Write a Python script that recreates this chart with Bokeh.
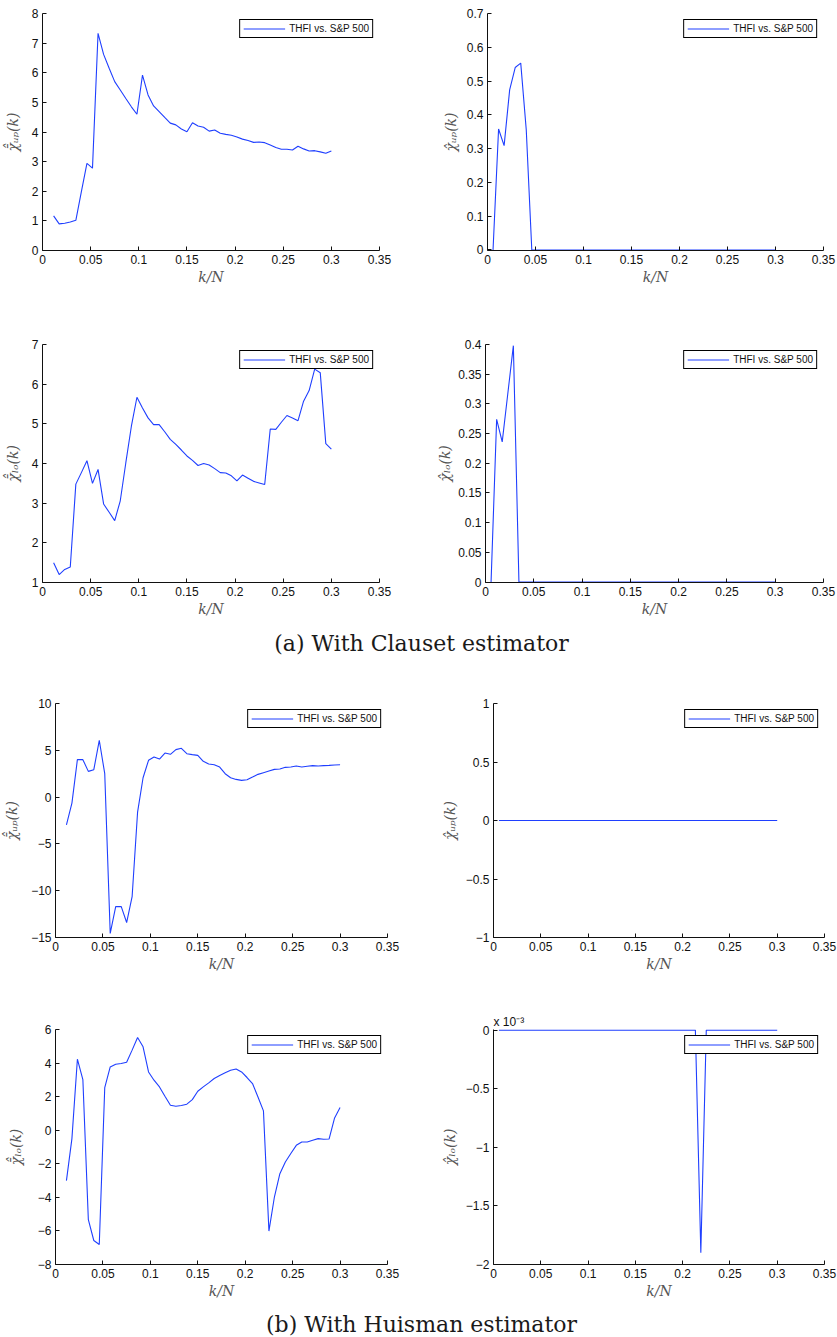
from bokeh.plotting import figure
from bokeh.models import Range1d, FixedTicker, Label, Title
from bokeh.layouts import column, row
from bokeh.embed import file_html
from bokeh.resources import INLINE

# k/N grid shared by all panels (left-column estimators start at the second point)
k_over_n = [
    0.00577, 0.01154, 0.01731, 0.02308, 0.02885, 0.03462, 0.04038, 0.04615,
    0.05192, 0.05769, 0.06346, 0.06923, 0.07500, 0.08077, 0.08654, 0.09231,
    0.09808, 0.10385, 0.10962, 0.11538, 0.12115, 0.12692, 0.13269, 0.13846,
    0.14423, 0.15000, 0.15577, 0.16154, 0.16731, 0.17308, 0.17885, 0.18462,
    0.19038, 0.19615, 0.20192, 0.20769, 0.21346, 0.21923, 0.22500, 0.23077,
    0.23654, 0.24231, 0.24808, 0.25385, 0.25962, 0.26538, 0.27115, 0.27692,
    0.28269, 0.28846, 0.29423, 0.30000,
]
k_over_n_bar = k_over_n[1:]

# (a) Clauset estimator
clauset_up_bar = [
    1.17, 0.90, 0.92, 0.96, 1.02, 1.99, 2.94, 2.78, 7.33, 6.62, 6.15, 5.70,
    5.42, 5.13, 4.85, 4.60, 5.92, 5.25, 4.88, 4.69, 4.49, 4.30, 4.24, 4.10,
    4.01, 4.31, 4.20, 4.16, 4.03, 4.07, 3.96, 3.92, 3.89, 3.83, 3.76, 3.71,
    3.65, 3.66, 3.64, 3.56, 3.48, 3.42, 3.42, 3.39, 3.52, 3.43, 3.36, 3.37,
    3.33, 3.28, 3.36,
]
clauset_up_hat = [
    0.0, 0.358, 0.309, 0.474, 0.540, 0.553, 0.355, 0.0, 0.0, 0.0, 0.0, 0.0,
    0.0, 0.0, 0.0, 0.0, 0.0, 0.0, 0.0, 0.0, 0.0, 0.0, 0.0, 0.0, 0.0, 0.0,
    0.0, 0.0, 0.0, 0.0, 0.0, 0.0, 0.0, 0.0, 0.0, 0.0, 0.0, 0.0, 0.0, 0.0,
    0.0, 0.0, 0.0, 0.0, 0.0, 0.0, 0.0, 0.0, 0.0, 0.0, 0.0, 0.0,
]
clauset_lo_bar = [
    1.50, 1.20, 1.33, 1.39, 3.48, 3.77, 4.07, 3.50, 3.85, 2.98, 2.77, 2.56,
    3.06, 4.02, 4.94, 5.67, 5.40, 5.15, 4.98, 4.98, 4.80, 4.61, 4.48, 4.34,
    4.19, 4.08, 3.95, 4.00, 3.96, 3.87, 3.77, 3.76, 3.69, 3.56, 3.71, 3.63,
    3.55, 3.51, 3.47, 4.87, 4.86, 5.04, 5.21, 5.15, 5.08, 5.57, 5.84, 6.38,
    6.29, 4.50, 4.36,
]
clauset_lo_hat = [
    0.0, 0.274, 0.236, 0.317, 0.398, 0.0, 0.0, 0.0, 0.0, 0.0, 0.0, 0.0,
    0.0, 0.0, 0.0, 0.0, 0.0, 0.0, 0.0, 0.0, 0.0, 0.0, 0.0, 0.0, 0.0, 0.0,
    0.0, 0.0, 0.0, 0.0, 0.0, 0.0, 0.0, 0.0, 0.0, 0.0, 0.0, 0.0, 0.0, 0.0,
    0.0, 0.0, 0.0, 0.0, 0.0, 0.0, 0.0, 0.0, 0.0, 0.0, 0.0, 0.0,
]

# (b) Huisman estimator
huisman_up_bar = [
    -2.96, -0.64, 4.00, 4.00, 2.75, 2.93, 6.07, 2.50, -14.57, -11.70, -11.68,
    -13.40, -10.64, -1.60, 2.07, 3.93, 4.29, 4.07, 4.71, 4.57, 5.07, 5.21,
    4.64, 4.54, 4.46, 3.82, 3.54, 3.46, 3.21, 2.50, 2.07, 1.89, 1.79, 1.86,
    2.14, 2.43, 2.61, 2.79, 2.96, 3.00, 3.18, 3.21, 3.32, 3.21, 3.29, 3.36,
    3.32, 3.36, 3.39, 3.43, 3.46,
]
huisman_up_hat = [
    0.0, 0.0, 0.0, 0.0, 0.0, 0.0, 0.0, 0.0, 0.0, 0.0, 0.0, 0.0, 0.0,
    0.0, 0.0, 0.0, 0.0, 0.0, 0.0, 0.0, 0.0, 0.0, 0.0, 0.0, 0.0, 0.0,
    0.0, 0.0, 0.0, 0.0, 0.0, 0.0, 0.0, 0.0, 0.0, 0.0, 0.0, 0.0, 0.0,
    0.0, 0.0, 0.0, 0.0, 0.0, 0.0, 0.0, 0.0, 0.0, 0.0, 0.0, 0.0, 0.0,
]
huisman_lo_bar = [
    -3.00, -0.50, 4.23, 3.02, -5.33, -6.57, -6.81, 2.54, 3.77, 3.93, 3.97,
    4.05, 4.77, 5.52, 4.97, 3.47, 2.98, 2.58, 2.02, 1.49, 1.43, 1.47, 1.55,
    1.82, 2.32, 2.58, 2.82, 3.08, 3.26, 3.42, 3.57, 3.65, 3.47, 3.14, 2.78,
    1.98, 1.15, -6.01, -3.98, -2.59, -1.89, -1.39, -0.90, -0.70, -0.70,
    -0.60, -0.50, -0.54, -0.52, 0.73, 1.35,
]
huisman_lo_hat = [
    0.0, 0.0, 0.0, 0.0, 0.0, 0.0, 0.0, 0.0, 0.0, 0.0, 0.0, 0.0, 0.0,
    0.0, 0.0, 0.0, 0.0, 0.0, 0.0, 0.0, 0.0, 0.0, 0.0, 0.0, 0.0, 0.0,
    0.0, 0.0, 0.0, 0.0, 0.0, 0.0, 0.0, 0.0, 0.0, 0.0, 0.0, -0.0019,
    0.0, 0.0, 0.0, 0.0, 0.0, 0.0, 0.0, 0.0, 0.0, 0.0, 0.0, 0.0, 0.0, 0.0,
]

SERIES_NAME = "THFI vs. S&P 500"
M = "\u2212"

x_ticks = [0, 0.05, 0.1, 0.15, 0.2, 0.25, 0.3, 0.35]
x_tick_labels = ["0", "0.05", "0.1", "0.15", "0.2", "0.25", "0.3", "0.35"]

ticks_up_bar_a = [0, 1, 2, 3, 4, 5, 6, 7, 8]
labels_up_bar_a = ["0", "1", "2", "3", "4", "5", "6", "7", "8"]
ticks_up_hat_a = [0, 0.1, 0.2, 0.3, 0.4, 0.5, 0.6, 0.7]
labels_up_hat_a = ["0", "0.1", "0.2", "0.3", "0.4", "0.5", "0.6", "0.7"]
ticks_lo_bar_a = [1, 2, 3, 4, 5, 6, 7]
labels_lo_bar_a = ["1", "2", "3", "4", "5", "6", "7"]
ticks_lo_hat_a = [0, 0.05, 0.1, 0.15, 0.2, 0.25, 0.3, 0.35, 0.4]
labels_lo_hat_a = ["0", "0.05", "0.1", "0.15", "0.2", "0.25", "0.3", "0.35", "0.4"]
ticks_up_bar_b = [-15, -10, -5, 0, 5, 10]
labels_up_bar_b = [M + "15", M + "10", M + "5", "0", "5", "10"]
ticks_up_hat_b = [-1, -0.5, 0, 0.5, 1]
labels_up_hat_b = [M + "1", M + "0.5", "0", "0.5", "1"]
ticks_lo_bar_b = [-8, -6, -4, -2, 0, 2, 4, 6]
labels_lo_bar_b = [M + "8", M + "6", M + "4", M + "2", "0", "2", "4", "6"]
ticks_lo_hat_b = [-0.002, -0.0015, -0.001, -0.0005, 0]
labels_lo_hat_b = [M + "2", M + "1.5", M + "1", M + "0.5", "0"]
scale_note_lo_hat_b = "x 10\u207b\u00b3"

LABEL_UP_BAR = "\u03c7\u0304\u0302\u1d64\u209a(k)"
LABEL_UP_HAT = "\u03c7\u0302\u1d64\u209a(k)"
LABEL_LO_BAR = "\u03c7\u0304\u0302\u2097\u2092(k)"
LABEL_LO_HAT = "\u03c7\u0302\u2097\u2092(k)"

LINE_COLOR = "#1f3fff"
SANS = "Liberation Sans"
SERIF = "DejaVu Serif"


def panel(x, y, y_range, ticks, tick_labels, y_label, left, frame_w, right,
          top, frame_h, bottom, label_standoff):
    p = figure(frame_width=frame_w, frame_height=frame_h,
               min_border_left=left, min_border_right=right,
               min_border_top=top, min_border_bottom=bottom,
               x_range=Range1d(0, 0.35), y_range=y_range,
               toolbar_location=None, output_backend="svg",
               background_fill_color="white", border_fill_color="white",
               outline_line_color=None)
    p.grid.visible = False
    p.line(x, y, line_color=LINE_COLOR, line_width=1.1, legend_label=SERIES_NAME)

    p.xaxis.ticker = FixedTicker(ticks=x_ticks)
    p.xaxis.major_label_overrides = dict(zip(x_ticks, x_tick_labels))
    p.yaxis.ticker = FixedTicker(ticks=ticks)
    p.yaxis.major_label_overrides = dict(zip(ticks, tick_labels))

    p.axis.axis_line_color = "#111111"
    p.axis.axis_line_width = 1
    p.axis.major_tick_line_color = "#111111"
    p.axis.major_tick_in = 4
    p.axis.major_tick_out = 0
    p.axis.minor_tick_in = 0
    p.axis.minor_tick_out = 0
    p.axis.major_label_standoff = 4
    p.axis.major_label_text_font = SANS
    p.axis.major_label_text_font_size = "12px"
    p.axis.major_label_text_color = "#111111"
    p.axis.axis_label_text_font = SERIF
    p.axis.axis_label_text_font_style = "italic"
    p.axis.axis_label_text_font_size = "14px"
    p.axis.axis_label_text_color = "#555555"

    p.xaxis.axis_label = "k/N"
    p.xaxis.axis_label_standoff = 2
    p.yaxis.axis_label = y_label
    p.yaxis.axis_label_standoff = label_standoff

    lg = p.legend[0]
    lg.location = "top_right"
    lg.margin = 6
    lg.padding = 3
    lg.spacing = 0
    lg.glyph_width = 42
    lg.glyph_height = 11
    lg.label_height = 11
    lg.label_standoff = 4
    lg.label_text_font = SANS
    lg.label_text_font_size = "10px"
    lg.label_text_color = "#111111"
    lg.border_line_color = "black"
    lg.border_line_alpha = 1.0
    lg.border_line_width = 1.6
    lg.background_fill_alpha = 1.0
    return p


def caption(text, height, y):
    c = figure(width=837, height=height, x_range=Range1d(0, 1),
               y_range=Range1d(0, 1), toolbar_location=None,
               output_backend="svg", min_border=0, x_axis_location=None,
               y_axis_location=None, outline_line_color=None,
               background_fill_color="white", border_fill_color="white")
    c.grid.visible = False
    c.add_layout(Label(x=0.503, y=y, text=text, text_align="center",
                       text_baseline="middle", text_font=SERIF,
                       text_font_size="22px", text_color="#1a1a1a"))
    return c


# (a) Clauset estimator
p1 = panel(k_over_n_bar, clauset_up_bar, Range1d(0, 8), ticks_up_bar_a,
           labels_up_bar_a, LABEL_UP_BAR, 42, 337, 41, 13, 237, 40, 8)
p2 = panel(k_over_n, clauset_up_hat, Range1d(-0.0015, 0.7), ticks_up_hat_a,
           labels_up_hat_a, LABEL_UP_HAT, 67, 336, 14, 13, 237, 40, 5)
p3 = panel(k_over_n_bar, clauset_lo_bar, Range1d(1, 7), ticks_lo_bar_a,
           labels_lo_bar_a, LABEL_LO_BAR, 42, 337, 41, 54, 238, 38, 8)
p4 = panel(k_over_n, clauset_lo_hat, Range1d(-0.0008, 0.4), ticks_lo_hat_a,
           labels_lo_hat_a, LABEL_LO_HAT, 65, 338, 14, 54, 238, 38, 2)

# (b) Huisman estimator
p5 = panel(k_over_n_bar, huisman_up_bar, Range1d(-15, 10), ticks_up_bar_b,
           labels_up_bar_b, LABEL_UP_BAR, 55, 332, 33, 38, 234, 38, 8)
p6 = panel(k_over_n, huisman_up_hat, Range1d(-1, 1), ticks_up_hat_b,
           labels_up_hat_b, LABEL_UP_HAT, 73, 331, 13, 38, 234, 38, 5)
p7 = panel(k_over_n_bar, huisman_lo_bar, Range1d(-8, 6), ticks_lo_bar_b,
           labels_lo_bar_b, LABEL_LO_BAR, 55, 332, 33, 54, 235, 41, 11)
p8 = panel(k_over_n, huisman_lo_hat, Range1d(-0.002, 0.000005), ticks_lo_hat_b,
           labels_lo_hat_b, LABEL_LO_HAT, 73, 331, 13, 54, 235, 41, 5)

# exponent marker for the scaled axis, sitting just above the frame
p8.add_layout(Title(text=scale_note_lo_hat_b, align="left", offset=0,
                    standoff=2, text_font=SANS, text_font_size="12px",
                    text_font_style="normal", text_color="#111111"), "above")

layout = column(
    row(p1, p2),
    row(p3, p4),
    caption("(a) With Clauset estimator", 45, 0.5),
    row(p5, p6),
    row(p7, p8),
    caption("(b) With Huisman estimator", 32, 0.42),
)

open("out.html", "w").write(file_html(layout, INLINE))
